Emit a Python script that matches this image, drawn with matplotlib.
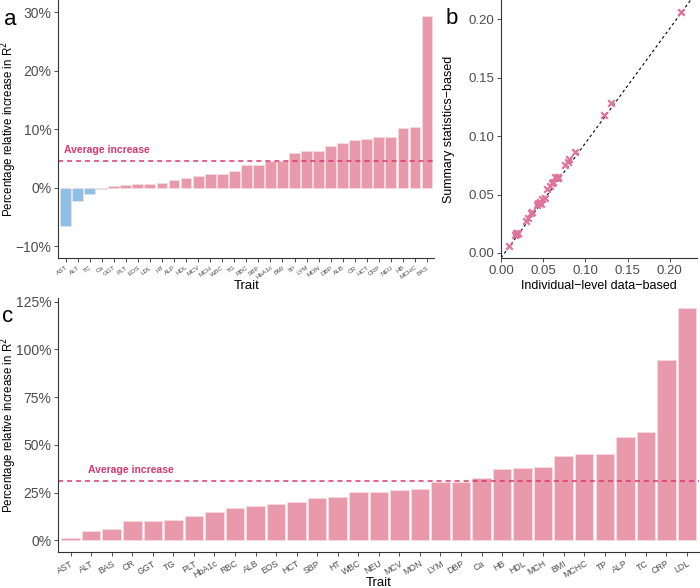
import numpy as np
import matplotlib
matplotlib.use("Agg")
import matplotlib.pyplot as plt

plt.rcParams["font.family"] = ["Liberation Sans", "DejaVu Sans"]

# panel a: relative increase per trait
traits_a = ["AST", "ALT", "TC", "Ca", "GGT", "PLT", "EOS", "LDL", "HT", "ALP", "HDL",
            "MCV", "MCH", "WBC", "TG", "RBC", "SBP", "HbA1c", "BMI", "TP", "LYM", "MON",
            "DBP", "ALB", "CR", "HCT", "CRP", "NEU", "HB", "MCHC", "BAS"]
increase_a = [-6.5, -2.3, -1.1, -0.2, 0.3, 0.4, 0.6, 0.7, 0.8, 1.3, 1.7,
              2.0, 2.3, 2.3, 2.8, 3.9, 3.9, 4.6, 4.6, 6.0, 6.3, 6.3,
              7.2, 7.6, 8.1, 8.4, 8.6, 8.7, 10.2, 10.4, 29.3]
average_a = 4.5

# panel b: R2 from individual-level data vs summary statistics
r2_individual = [0.009, 0.016, 0.018, 0.019, 0.020, 0.029, 0.032, 0.036, 0.037, 0.043,
                 0.044, 0.046, 0.047, 0.049, 0.052, 0.055, 0.058, 0.060, 0.062, 0.064,
                 0.066, 0.067, 0.068, 0.076, 0.079, 0.080, 0.088, 0.122, 0.130, 0.213]
r2_summary = [0.006, 0.015, 0.017, 0.016, 0.017, 0.027, 0.030, 0.034, 0.035, 0.041,
              0.043, 0.044, 0.042, 0.046, 0.047, 0.055, 0.057, 0.060, 0.061, 0.065,
              0.064, 0.065, 0.064, 0.075, 0.078, 0.080, 0.086, 0.118, 0.128, 0.206]
line_intercept = -0.004
line_slope = 0.98

# panel c: relative increase per trait
traits_c = ["AST", "ALT", "BAS", "CR", "GGT", "TG", "PLT", "HbA1c", "RBC", "ALB", "EOS",
            "HCT", "SBP", "HT", "WBC", "NEU", "MCV", "MON", "LYM", "DBP", "Ca", "HB",
            "HDL", "MCH", "BMI", "MCHC", "TP", "ALP", "TC", "CRP", "LDL"]
increase_c = [0.9, 4.6, 5.8, 9.9, 10.2, 10.8, 12.5, 14.8, 16.8, 17.8, 19.0,
              19.9, 22.2, 22.9, 25.2, 25.4, 26.1, 26.6, 30.5, 30.3, 32.8, 37.4,
              37.6, 38.4, 44.3, 45.0, 45.0, 54.1, 56.6, 94.5, 121.5]
average_c = 30.9

PINK = "#E899AC"
BLUE = "#8EC0E6"
AVG = "#D9386F"
GREY = "#4D4D4D"
R2_LABEL = "Percentage relative increase in R$^2$"


def style_axis(ax):
    for side in ["top", "right"]:
        ax.spines[side].set_visible(False)
    for side in ["left", "bottom"]:
        ax.spines[side].set_color("#333333")
        ax.spines[side].set_linewidth(0.8)
    ax.tick_params(color="#333333", length=3, width=0.6, labelcolor=GREY, pad=2)


def pct(v):
    return ("\u2212" if v < 0 else "") + "%d%%" % abs(v)


def bar_panel(ax, traits, values, average, ylim, yticks, xfont, rot, text_x):
    x = np.arange(1, len(traits) + 1)
    colors = [BLUE if v < 0 else PINK for v in values]
    ax.bar(x, values, width=0.9, color=colors, edgecolor="#F6DDE3", linewidth=0.5)
    ax.axhline(average, color=AVG, lw=1.1, ls=(0, (3.3, 2.6)))
    ax.text(text_x, average + (ylim[1] - ylim[0]) * 0.025, "Average increase",
            color=AVG, fontsize=7.5, fontweight="bold", va="bottom", ha="left")
    ax.set_xlim(0.4, len(traits) + 0.6)
    ax.set_ylim(*ylim)
    ax.set_yticks(yticks)
    ax.set_yticklabels([pct(v) for v in yticks], fontsize=10)
    ax.set_xticks(x)
    ax.set_xticklabels(traits, fontsize=xfont, rotation=rot, ha="right",
                       rotation_mode="anchor")
    ax.set_xlabel("Trait", fontsize=9.5)
    ax.set_ylabel(R2_LABEL, fontsize=8.3)
    style_axis(ax)


fig = plt.figure(figsize=(7, 5.88), dpi=100)
W, H = 700.0, 588.0

ax_a = fig.add_axes([58.3 / W, (H - 258) / H, 376 / W, 258 / H])
bar_panel(ax_a, traits_a, increase_a, average_a, (-12.0, 32.1), [-10, 0, 10, 20, 30],
          4.6, 35, 0.85)
ax_a.yaxis.set_label_coords(-0.104, 0.5)
ax_a.xaxis.set_label_coords(0.5, -0.085)

ax_b = fig.add_axes([501 / W, (H - 258) / H, 196 / W, 258 / H])
ax_b.axline((0, line_intercept), slope=line_slope, color="black", lw=0.8,
            ls=(0, (2.5, 2.5)))
ax_b.scatter(r2_individual, r2_summary, marker="x", s=22, linewidths=1.6,
             color="#E0739A", zorder=3)
ax_b.set_xlim(-0.0002, 0.2325)
ax_b.set_ylim(-0.0043, 0.2165)
ticks_b = [0.0, 0.05, 0.10, 0.15, 0.20]
ax_b.set_xticks(ticks_b)
ax_b.set_yticks(ticks_b)
ax_b.set_xticklabels(["%.2f" % t for t in ticks_b], fontsize=9.5)
ax_b.set_yticklabels(["%.2f" % t for t in ticks_b], fontsize=9.5)
ax_b.set_xlabel("Individual\u2212level data\u2212based", fontsize=9)
ax_b.xaxis.set_label_coords(0.5, -0.085)
ax_b.set_ylabel("Summary statistics\u2212based", fontsize=9)
ax_b.yaxis.set_label_coords(-0.235, 0.5)
style_axis(ax_b)

ax_c = fig.add_axes([58.3 / W, (H - 552) / H, 641 / W, 254 / H])
bar_panel(ax_c, traits_c, increase_c, average_c, (-6.2, 127.0), [0, 25, 50, 75, 100, 125],
          6.3, 30, 1.85)
ax_c.yaxis.set_label_coords(-0.062, 0.5)
ax_c.xaxis.set_label_coords(0.5, -0.097)

fig.text(4 / W, 1 - 25 / H, "a", fontsize=16)
fig.text(446 / W, 1 - 24 / H, "b", fontsize=16)
fig.text(2 / W, 1 - 322 / H, "c", fontsize=16)

fig.savefig("out.png", dpi=100)
